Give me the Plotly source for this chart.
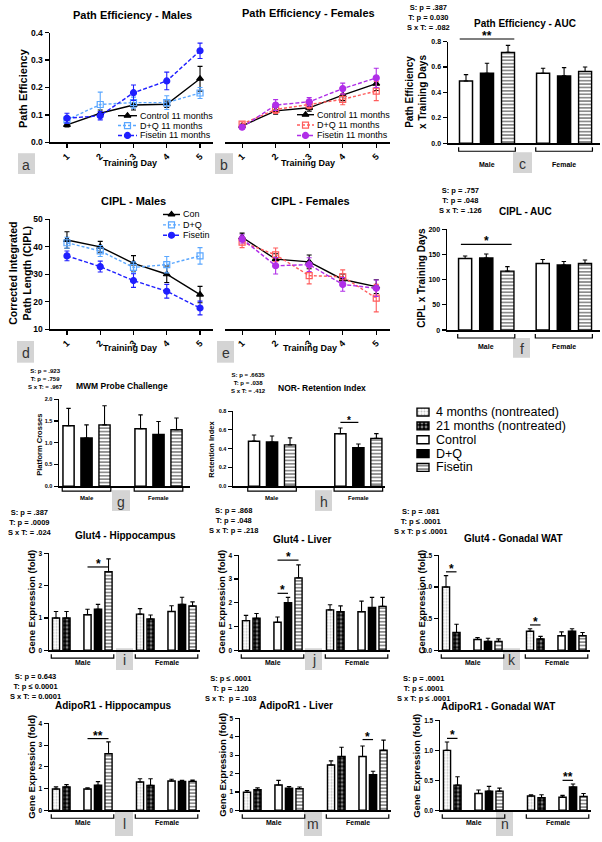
import plotly.graph_objects as go

W, H = 602, 842
FONT = "Liberation Sans, Arial, Helvetica, sans-serif"

# ---------------- data ----------------
days = [1, 2, 3, 4, 5]
line_names = ["Control 11 months", "D+Q 11 months", "Fisetin 11 months"]
cipl_names = ["Con", "D+Q", "Fisetin"]

# (a) Path efficiency - males
pe_m_ctrl = [0.064, 0.106, 0.136, 0.139, 0.232]
pe_m_ctrl_err = [0.008, 0.012, 0.018, 0.012, 0.045]
pe_m_dq = [0.082, 0.138, 0.145, 0.145, 0.180]
pe_m_dq_err = [0.012, 0.045, 0.02, 0.025, 0.02]
pe_m_fis = [0.088, 0.097, 0.181, 0.224, 0.334]
pe_m_fis_err = [0.018, 0.015, 0.028, 0.032, 0.028]

# (b) Path efficiency - females
pe_f_ctrl = [0.060, 0.115, 0.126, 0.172, 0.214]
pe_f_ctrl_err = [0.006, 0.012, 0.012, 0.02, 0.025]
pe_f_dq = [0.067, 0.120, 0.138, 0.157, 0.187]
pe_f_dq_err = [0.008, 0.015, 0.015, 0.02, 0.035]
pe_f_fis = [0.055, 0.136, 0.148, 0.196, 0.235]
pe_f_fis_err = [0.006, 0.02, 0.015, 0.02, 0.035]

# (d) CIPL - males
cipl_m_ctrl = [42.5, 40.0, 34.0, 30.0, 22.6]
cipl_m_ctrl_err = [3.0, 2.0, 2.8, 3.0, 3.0]
cipl_m_dq = [41.5, 38.5, 32.5, 33.5, 36.7]
cipl_m_dq_err = [2.0, 2.0, 2.0, 3.0, 3.0]
cipl_m_fis = [36.7, 32.8, 27.7, 23.8, 17.7]
cipl_m_fis_err = [1.8, 2.0, 2.5, 2.5, 2.5]

# (e) CIPL - females
cipl_f_ctrl = [43.5, 35.5, 34.5, 28.1, 25.5]
cipl_f_ctrl_err = [1.5, 2.0, 2.5, 2.0, 2.5]
cipl_f_dq = [41.7, 37.1, 29.5, 29.1, 21.3]
cipl_f_dq_err = [2.0, 2.5, 3.0, 2.5, 5.0]
cipl_f_fis = [42.9, 33.1, 33.5, 26.3, 24.9]
cipl_f_fis_err = [1.5, 3.0, 2.5, 2.5, 3.0]

# bar groups
kinds6 = ["ctrl", "dq", "fis", "ctrl", "dq", "fis"]
kinds10 = ["4m", "21m", "ctrl", "dq", "fis", "4m", "21m", "ctrl", "dq", "fis"]
sex_labels = ["Male", "Female"]

auc_pe = [0.49, 0.55, 0.715, 0.55, 0.53, 0.565]
auc_pe_err = [0.05, 0.08, 0.055, 0.04, 0.065, 0.035]
auc_cipl = [142, 143, 117, 132, 129, 132]
auc_cipl_err = [5, 8, 9, 8, 7, 7]
mwm = [1.39, 1.11, 1.41, 1.32, 1.19, 1.30]
mwm_err = [0.40, 0.30, 0.44, 0.32, 0.30, 0.27]
nor = [0.48, 0.47, 0.44, 0.56, 0.41, 0.51]
nor_err = [0.065, 0.065, 0.075, 0.06, 0.04, 0.05]

glut4_hip = [1.0, 1.0, 1.1, 1.27, 2.43, 1.12, 0.97, 1.2, 1.42, 1.37]
glut4_hip_err = [0.2, 0.2, 0.17, 0.15, 0.4, 0.17, 0.12, 0.18, 0.22, 0.13]
glut4_liv = [1.25, 1.35, 1.18, 2.0, 3.05, 1.7, 1.62, 1.62, 1.8, 1.85]
glut4_liv_err = [0.22, 0.2, 0.22, 0.23, 0.55, 0.22, 0.25, 0.45, 0.43, 0.38]
glut4_wat = [1.0, 0.28, 0.17, 0.14, 0.14, 0.30, 0.18, 0.23, 0.30, 0.23]
glut4_wat_err = [0.18, 0.13, 0.03, 0.05, 0.04, 0.04, 0.04, 0.06, 0.04, 0.05]
adipo_hip = [0.98, 1.08, 0.98, 1.15, 2.6, 1.3, 1.15, 1.35, 1.33, 1.33]
adipo_hip_err = [0.1, 0.1, 0.06, 0.17, 0.55, 0.15, 0.3, 0.08, 0.05, 0.06]
adipo_liv = [0.98, 1.12, 1.38, 1.2, 1.17, 2.47, 2.93, 2.93, 1.93, 3.27]
adipo_liv_err = [0.1, 0.1, 0.25, 0.1, 0.1, 0.22, 0.5, 0.57, 0.2, 0.55]
adipo_wat = [1.0, 0.42, 0.28, 0.32, 0.32, 0.24, 0.21, 0.22, 0.39, 0.23]
adipo_wat_err = [0.14, 0.14, 0.06, 0.08, 0.05, 0.02, 0.05, 0.03, 0.05, 0.05]

legend_labels = ["4 months (nontreated)", "21 months (nontreated)", "Control", "D+Q", "Fisetin"]
legend_kinds = ["4m", "21m", "ctrl", "dq", "fis"]

# ---------------- helpers ----------------
layout_axes = {}
annotations = []
shapes = []
traces = []
AX = {}


def akey(p, k):
    return p if k == 1 else f"{p}{k}"


def bold(t):
    return f"<b>{t}</b>"


def add_axes(k, x0, x1, top, bot, xr, yr, yticks, ytext, tsize, show_y=True, xticks=None):
    AX[k] = dict(x0=x0, x1=x1, top=top, bot=bot, xr=xr, yr=yr)
    xa = dict(domain=[x0 / W, x1 / W], range=xr, anchor=akey("y", k), showgrid=False, zeroline=False,
              showline=True, linecolor="black", linewidth=1.5, fixedrange=True,
              showticklabels=False, ticks="")
    if xticks is not None:
        xa.update(tickmode="array", tickvals=xticks, ticktext=[str(t) for t in xticks], ticks="outside",
                  ticklen=4, tickwidth=1.2, tickcolor="black", showticklabels=True, tickangle=-45,
                  tickfont=dict(family=FONT, size=9, color="black", weight="bold"))
    ya = dict(domain=[1 - bot / H, 1 - top / H], range=yr, anchor=akey("x", k), showgrid=False,
              zeroline=False, showline=show_y, linecolor="black", linewidth=1.5, fixedrange=True,
              tickmode="array", tickvals=yticks, ticktext=ytext, ticks="outside" if show_y else "",
              ticklen=4, tickwidth=1.2, tickcolor="black", showticklabels=show_y,
              tickfont=dict(family=FONT, size=tsize, color="black", weight="bold"))
    layout_axes[akey("xaxis", k)] = xa
    layout_axes[akey("yaxis", k)] = ya


def py(k, v):
    a = AX[k]
    r0, r1 = a["yr"]
    yb = 1 - a["bot"] / H
    yt = 1 - a["top"] / H
    return yb + (v - r0) / (r1 - r0) * (yt - yb)


def text(x, y, t, size, xanchor="center", yanchor="middle", angle=0, align="center", color="black", b=True):
    annotations.append(dict(x=x / W, y=1 - y / H, xref="paper", yref="paper", text=bold(t) if b else t,
                            showarrow=False, xanchor=xanchor, yanchor=yanchor, textangle=angle, align=align,
                            borderpad=0, font=dict(family=FONT, size=size, color=color)))


def letter_box(x0, x1, y0, y1, t):
    shapes.append(dict(type="rect", xref="paper", yref="paper", x0=x0 / W, x1=x1 / W, y0=1 - y1 / H,
                       y1=1 - y0 / H, fillcolor="#d4d4d4", line=dict(width=0), layer="below"))
    text((x0 + x1) / 2, (y0 + y1) / 2 + 1, t, 14, color="#333", b=False)


LINE_STYLES = {
    "ctrl": dict(symbol="triangle-up", dash="solid"),
    "dq": dict(symbol="square-open", dash="3px,2px"),
    "fis": dict(symbol="circle", dash="4px,2px"),
}


def add_lines(k, series, colors):
    for (key, vals, errs), col in zip(series, colors):
        st = LINE_STYLES[key]
        traces.append(go.Scatter(
            x=days, y=vals, xaxis=akey("x", k), yaxis=akey("y", k), mode="lines+markers",
            line=dict(color=col, width=1.4, dash=st["dash"]),
            marker=dict(symbol=st["symbol"], size=6, color=col, line=dict(color=col, width=1.2)),
            error_y=dict(type="data", array=errs, color=col, thickness=1.1, width=2.5),
            showlegend=False, cliponaxis=False, hoverinfo="skip"))


BAR_STYLE = {
    "4m": dict(color="white", line=dict(color="black", width=1.4),
               pattern=dict(shape=".", fgcolor="#8c8c8c", bgcolor="white", size=3, solidity=0.35)),
    "21m": dict(color="black", line=dict(color="black", width=1.4),
                pattern=dict(shape=".", fgcolor="white", bgcolor="black", size=4, solidity=0.4)),
    "ctrl": dict(color="white", line=dict(color="black", width=1.5)),
    "dq": dict(color="black", line=dict(color="black", width=1.5)),
    "fis": dict(color="white", line=dict(color="black", width=1.4),
                pattern=dict(shape="-", fgcolor="black", bgcolor="white", size=3.4, solidity=0.45)),
}


def add_bars(k, pos, kinds, vals, errs, width):
    for kind in ["4m", "21m", "ctrl", "dq", "fis"]:
        idx = [i for i, kk in enumerate(kinds) if kk == kind]
        if not idx:
            continue
        traces.append(go.Bar(
            x=[pos[i] for i in idx], y=[vals[i] for i in idx], width=width,
            xaxis=akey("x", k), yaxis=akey("y", k), marker=BAR_STYLE[kind],
            error_y=dict(type="data", array=[errs[i] for i in idx], arrayminus=[0] * len(idx),
                         symmetric=False, color="black", thickness=1.1, width=2.2),
            showlegend=False, hoverinfo="skip"))


def bracket(k, xa, xb, label, off=8, loff=17, size=7):
    yb = AX[k]["bot"] + off
    y = 1 - yb / H
    yt = 1 - (yb - 4) / H
    shapes.append(dict(type="path", xref=akey("x", k), yref="paper",
                       path=f"M {xa},{yt} L {xa},{y} L {xb},{y} L {xb},{yt}",
                       line=dict(color="black", width=1.2)))
    annotations.append(dict(x=(xa + xb) / 2, y=1 - (AX[k]["bot"] + loff) / H, xref=akey("x", k),
                            yref="paper", text=bold(label), showarrow=False, borderpad=0,
                            font=dict(family=FONT, size=size, color="black")))


def star(k, xa, xb, yv, s, size=12):
    y = py(k, yv)
    shapes.append(dict(type="line", xref=akey("x", k), yref="paper", x0=xa, x1=xb, y0=y, y1=y,
                       line=dict(color="black", width=1.2)))
    annotations.append(dict(x=(xa + xb) / 2, y=y, xref=akey("x", k), yref="paper", text=bold(s),
                            showarrow=False, yanchor="bottom", yshift=-5, borderpad=0,
                            font=dict(family=FONT, size=size, color="black")))


def fmt(vals, f):
    return [format(v, f) for v in vals]


# ---------------- line panels ----------------
pe_ticks = [0.0, 0.1, 0.2, 0.3, 0.4]
cipl_ticks = [10, 20, 30, 40, 50]
add_axes(1, 50, 213, 28, 139, [0.49, 5.39], [0, 0.4], pe_ticks, fmt(pe_ticks, ".1f"), 8.5, True, days)
add_axes(2, 225, 390, 28, 139, [0.49, 5.41], [0, 0.4], pe_ticks, fmt(pe_ticks, ".1f"), 8.5, False, days)
add_axes(4, 50, 213, 217, 328, [0.49, 5.39], [10, 50], cipl_ticks, [str(t) for t in cipl_ticks], 8.5, True, days)
add_axes(5, 225, 390, 217, 328, [0.49, 5.41], [10, 50], cipl_ticks, [str(t) for t in cipl_ticks], 8.5, False, days)

MC = ["black", "#5aa7ff", "#1f1fff"]
FC = ["black", "#ff5c5c", "#b02ee8"]
add_lines(1, [("ctrl", pe_m_ctrl, pe_m_ctrl_err), ("dq", pe_m_dq, pe_m_dq_err), ("fis", pe_m_fis, pe_m_fis_err)], MC)
add_lines(2, [("ctrl", pe_f_ctrl, pe_f_ctrl_err), ("dq", pe_f_dq, pe_f_dq_err), ("fis", pe_f_fis, pe_f_fis_err)], FC)
add_lines(4, [("ctrl", cipl_m_ctrl, cipl_m_ctrl_err), ("dq", cipl_m_dq, cipl_m_dq_err), ("fis", cipl_m_fis, cipl_m_fis_err)], MC)
add_lines(5, [("ctrl", cipl_f_ctrl, cipl_f_ctrl_err), ("dq", cipl_f_dq, cipl_f_dq_err), ("fis", cipl_f_fis, cipl_f_fis_err)], FC)

# ---------------- bar panels ----------------
pos6_auc = [0, 1, 2, 3.67, 4.67, 5.67]
auc_pe_ticks = [0.0, 0.2, 0.4, 0.6, 0.8]
add_axes(3, 448, 600, 37, 140, [-0.857, 6.38], [0, 0.8], auc_pe_ticks, fmt(auc_pe_ticks, ".1f"), 7)
add_bars(3, pos6_auc, kinds6, auc_pe, auc_pe_err, 0.62)
auc_cipl_ticks = [0, 50, 100, 150, 200]
add_axes(6, 447, 600, 227, 329, [-0.857, 6.38], [0, 200], auc_cipl_ticks, [str(t) for t in auc_cipl_ticks], 7)
add_bars(6, pos6_auc, kinds6, auc_cipl, auc_cipl_err, 0.62)

pos6_g = [0, 1, 2, 4, 5, 6]
mwm_ticks = [0.0, 0.5, 1.0, 1.5, 2.0]
add_axes(7, 59, 190, 399, 487, [-0.53, 6.75], [0, 2.0], mwm_ticks, fmt(mwm_ticks, ".1f"), 5.5)
add_bars(7, pos6_g, kinds6, mwm, mwm_err, 0.62)
pos6_h = [0, 1, 2, 4.8, 5.8, 6.8]
nor_ticks = [0.0, 0.2, 0.4, 0.6, 0.8]
add_axes(8, 233, 385, 411, 487, [-1.17, 7.28], [0, 0.8], nor_ticks, fmt(nor_ticks, ".1f"), 5.5)
add_bars(8, pos6_h, kinds6, nor, nor_err, 0.62)

pos10 = [0, 1, 3, 4, 5, 8, 9, 11, 12, 13]
GX = [-0.667, 13.71]
gene_panels = [
    (9, 49, 200, 555, 653, [0, 3], [0, 1, 2, 3], None, glut4_hip, glut4_hip_err),
    (10, 239, 390, 557, 653, [0, 4], [0, 1, 2, 3, 4], None, glut4_liv, glut4_liv_err),
    (11, 439, 590, 557, 653, [0, 1.5], [0.0, 0.5, 1.0, 1.5], ".1f", glut4_wat, glut4_wat_err),
    (12, 49, 200, 727, 815, [0, 4], [0, 1, 2, 3, 4], None, adipo_hip, adipo_hip_err),
    (13, 240, 391, 722, 815, [0, 5], [0, 1, 2, 3, 4, 5], None, adipo_liv, adipo_liv_err),
    (14, 440, 591, 724, 815, [0, 1.5], [0.0, 0.5, 1.0, 1.5], ".1f", adipo_wat, adipo_wat_err),
]
for k, x0, x1, top, bot, yr, ticks, f, vals, errs in gene_panels:
    tt = fmt(ticks, f) if f else [str(t) for t in ticks]
    add_axes(k, x0, x1, top, bot, GX, yr, ticks, tt, 6.5)
    add_bars(k, pos10, kinds10, vals, errs, 0.68)
    bracket(k, pos10[0] - 0.45, pos10[4] + 0.5, sex_labels[0])
    bracket(k, pos10[5] - 0.45, pos10[9] + 0.5, sex_labels[1])

for k, pos in [(3, pos6_auc), (6, pos6_auc)]:
    bracket(k, pos[0] - 0.35, pos[2] + 0.35, sex_labels[0])
    bracket(k, pos[3] - 0.35, pos[5] + 0.35, sex_labels[1])
for k, pos in [(7, pos6_g), (8, pos6_h)]:
    bracket(k, pos[0] - 0.35, pos[2] + 0.35, sex_labels[0], off=5, loff=12, size=6)
    bracket(k, pos[3] - 0.35, pos[5] + 0.35, sex_labels[1], off=5, loff=12, size=6)

# significance markers
star(3, pos6_auc[0] - 0.3, pos6_auc[2] + 0.3, 0.82, "**")
star(6, pos6_auc[0] - 0.2, pos6_auc[2] + 0.2, 170, "*")
star(8, pos6_h[3], pos6_h[4], 0.68, "*", 10)
star(9, pos10[2], pos10[4], 2.58, "*")
star(10, pos10[2], pos10[4], 3.8, "*")
star(10, pos10[2], pos10[3], 2.4, "*")
star(11, pos10[0], pos10[1], 1.24, "*")
star(11, pos10[5], pos10[6], 0.40, "*")
star(12, pos10[2], pos10[4], 3.3, "**")
star(13, pos10[7], pos10[8], 3.85, "*")
star(14, pos10[0], pos10[1], 1.2, "*")
star(14, pos10[7], pos10[8], 0.5, "**")

# ---------------- titles ----------------
text(132, 10, "Path Efficiency - Males", 11)
text(308, 8, "Path Efficiency - Females", 11)
text(525, 19, "Path Efficiency - AUC", 10)
text(133, 198, "CIPL - Males", 11)
text(310, 198, "CIPL - Females", 11)
text(525, 209, "CIPL - AUC", 10)
text(122, 386, "MWM Probe Challenge", 8.5)
text(322, 388, "NOR- Retention Index", 8.5)
text(125, 537, "Glut4 - Hippocampus", 10)
text(302, 541, "Glut4 - Liver", 10)
text(513, 540, "Glut4 - Gonadal WAT", 10)
text(113, 709, "AdipoR1 - Hippocampus", 10)
text(296, 709, "AdipoR1 - Liver", 10)
text(498, 710, "AdipoR1 - Gonadal WAT", 10)

# stats
stats = [
    (428, 13, ["S: p = .387", "T: p = 0.030", "S x T: = .082"], 7.5),
    (460, 198, ["S: p = .757", "T: p = .048", "S x T: = .126"], 7.5),
    (45, 379, ["S: p = .923", "T: p = .759", "S x T: = .967"], 6),
    (248, 383, ["S: p = .6635", "T: p = .038", "S x T: = .412"], 6),
    (30, 524, ["S: p = .387", "T: p = .0009", "S x T: = .024"], 7.5),
    (233, 522, ["S: p = .868", "T: p = .048", "S x T: p = .218"], 7.5),
    (420, 523, ["S: p = .081", "T: p \u2264 .0001", "S x T: p \u2264 .0001"], 7.5),
    (35, 690, ["S: p = 0.643", "T: p \u2264 0.0001", "S x T: = 0.0001"], 7.5),
    (230, 692, ["S: p \u2264 .0001", "T: p = .120", "S x T:  p = .103"], 7.5),
    (423, 692, ["S: p = .0001", "T: p \u2264 .0001", "S x T: p \u2264 .0001"], 7.5),
]
for x, y, lines, s in stats:
    text(x, y, "<br>".join(lines), s)

# axis titles
text(23, 84, "Path Efficiency", 11, angle=-90)
text(20, 272, "Corrected Integrated<br>Path Length (CIPL)", 10.5, angle=-90)
text(416, 88, "Path Efficiency<br>x Training Days", 10, angle=-90)
text(422, 276, "CIPL x Training Days", 10, angle=-90)
text(40, 445, "Platform Crosses", 7.5, angle=-90)
text(212, 449, "Retention Index", 7.5, angle=-90)
for x, y in [(32, 604), (222, 604), (422, 604), (32, 771), (223, 769), (417, 770)]:
    text(x, y, "Gene Expression (fold)", 9.5, angle=-90)
for x, y in [(130, 160), (308, 160), (130, 347), (310, 347)]:
    text(x, y, "Training Day", 9)

# letter boxes
for x0, x1, y0, y1, t in [
    (18, 35, 150, 171, "a"), (215, 233, 150, 171, "b"), (513, 532, 149, 170, "c"),
    (17, 34, 340, 362, "d"), (217, 234, 340, 362, "e"), (513, 530, 337, 357, "f"),
    (112, 130, 491, 512, "g"), (315, 332, 491, 512, "h"),
    (116, 133, 651, 673, "i"), (305, 322, 651, 673, "j"), (503, 520, 651, 673, "k"),
    (115, 133, 815, 841, "l"), (304, 322, 815, 841, "m"), (496, 513, 815, 841, "n")]:
    letter_box(x0, x1, y0, y1, t)

# ---------------- legends (page overlay axis) ----------------
layout_axes["xaxis99"] = dict(domain=[0, 1], range=[0, W], visible=False, fixedrange=True, anchor="y99")
layout_axes["yaxis99"] = dict(domain=[0, 1], range=[H, 0], visible=False, fixedrange=True, anchor="x99")


def line_legend(x0, x1, tx, rows, colors, names, size=9):
    for key, col, ry, name in zip(["ctrl", "dq", "fis"], colors, rows, names):
        st = LINE_STYLES[key]
        traces.append(go.Scatter(x=[x0, x1], y=[ry, ry], xaxis="x99", yaxis="y99", mode="lines",
                                 line=dict(color=col, width=1.4, dash=st["dash"]), showlegend=False,
                                 hoverinfo="skip"))
        traces.append(go.Scatter(x=[(x0 + x1) / 2], y=[ry], xaxis="x99", yaxis="y99", mode="markers",
                                 marker=dict(symbol=st["symbol"], size=6, color=col,
                                             line=dict(color=col, width=1.2)),
                                 showlegend=False, hoverinfo="skip"))
        text(tx, ry, name, size, xanchor="left", b=False)


line_legend(118, 137, 139, [112, 122, 132], MC, line_names)
line_legend(297, 314, 316, [111, 121.5, 132], FC, line_names)
line_legend(163, 180, 182, [212, 222.5, 233], MC, cipl_names)

for i, (kind, lab) in enumerate(zip(legend_kinds, legend_labels)):
    ry = 412 + 14 * i
    traces.append(go.Bar(x=[12], y=[ry], base=[417], orientation="h", width=8, xaxis="x99", yaxis="y99",
                         marker=BAR_STYLE[kind], showlegend=False, hoverinfo="skip"))
    text(435, ry, lab, 12.5, xanchor="left", b=False)

fig = go.Figure(data=traces)
fig.update_layout(
    width=W, height=H, margin=dict(l=0, r=0, t=0, b=0), paper_bgcolor="white",
    plot_bgcolor="rgba(0,0,0,0)", barmode="overlay", showlegend=False,
    font=dict(family=FONT, color="black"), annotations=annotations, shapes=shapes,
    **layout_axes)
fig.write_html("out.html", config={"displayModeBar": False, "staticPlot": True},
               post_script="document.body.style.margin='0';document.body.style.padding='0';document.body.style.overflow='hidden';")
